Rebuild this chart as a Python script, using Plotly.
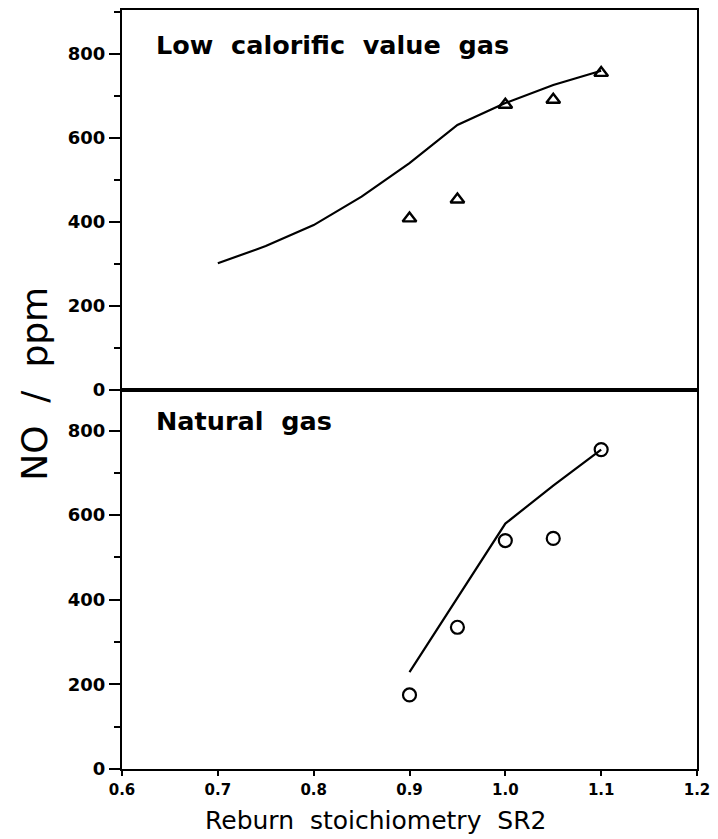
import plotly.graph_objects as go
from plotly.subplots import make_subplots

# Low calorific value gas (top panel)
lcv_meas_x = [0.90, 0.95, 1.00, 1.05, 1.10]
lcv_meas_y = [408, 453, 679, 691, 755]
lcv_calc_x = [0.70, 0.75, 0.80, 0.85, 0.90, 0.95, 1.00, 1.05, 1.10]
lcv_calc_y = [301, 342, 392, 460, 540, 631, 683, 726, 760]

# Natural gas (bottom panel)
ng_meas_x = [0.90, 0.95, 1.00, 1.05, 1.10]
ng_meas_y = [175, 335, 540, 545, 755]
ng_calc_x = [0.90, 0.95, 1.00, 1.05, 1.10]
ng_calc_y = [229, 405, 580, 670, 755]

y_tickvals = [0, 200, 400, 600, 800]
x_tickvals = [0.6, 0.7, 0.8, 0.9, 1.0, 1.1, 1.2]
x_ticktext = ["0.6", "0.7", "0.8", "0.9", "1.0", "1.1", "1.2"]

NB = "\u00a0"

W, H = 718, 839
ML, MR, MT, MB = 122, 16, 8, 70
PW, PH = W - ML - MR, H - MT - MB


def px_x(p):
    return (p - ML) / PW


def px_y(p):
    return (H - MB - p) / PH


fig = make_subplots(rows=2, cols=1, shared_xaxes=True, vertical_spacing=0)

fig.add_trace(go.Scatter(x=lcv_calc_x, y=lcv_calc_y, mode="lines",
                         line=dict(color="black", width=2.2), showlegend=False), row=1, col=1)
fig.add_trace(go.Scatter(x=lcv_meas_x, y=lcv_meas_y, mode="markers",
                         marker=dict(symbol="triangle-up-open", size=12, color="black",
                                     line=dict(color="black", width=2.4)),
                         showlegend=False), row=1, col=1)
fig.add_trace(go.Scatter(x=ng_calc_x, y=ng_calc_y, mode="lines",
                         line=dict(color="black", width=2.2), showlegend=False), row=2, col=1)
fig.add_trace(go.Scatter(x=ng_meas_x, y=ng_meas_y, mode="markers",
                         marker=dict(symbol="circle-open", size=13, color="black",
                                     line=dict(color="black", width=2.2)),
                         showlegend=False), row=2, col=1)

tickfont_y = dict(family="DejaVu Sans", size=18, color="black", weight="bold")
tickfont_x = dict(family="DejaVu Sans", size=15, color="black", weight="bold")

common_y = dict(showline=True, linecolor="black", linewidth=2, mirror=True,
                ticks="outside", ticklen=11, tickwidth=2, tickcolor="black",
                tickvals=y_tickvals, tickfont=tickfont_y, showgrid=False, zeroline=False,
                minor=dict(ticks="outside", ticklen=6, tickwidth=2, tickcolor="black",
                           dtick=100, tick0=0, showgrid=False))

fig.update_yaxes(range=[0, 905], row=1, col=1, **common_y)
fig.update_yaxes(range=[0, 897], row=2, col=1, **common_y)

fig.update_xaxes(range=[0.6, 1.2], showline=True, linecolor="black", linewidth=2,
                 mirror=True, showgrid=False, zeroline=False)
fig.update_xaxes(ticks="", showticklabels=False, row=1, col=1)
fig.update_xaxes(ticks="outside", ticklen=5, tickwidth=2, tickcolor="black",
                 tickvals=x_tickvals, ticktext=x_ticktext, tickfont=tickfont_x,
                 ticklabelstandoff=1, row=2, col=1)

# x-axis title
fig.add_annotation(x=px_x(378), y=px_y(821), xref="paper", yref="paper",
                   text=f"Reburn{NB}{NB}stoichiometry{NB}{NB}SR2",
                   showarrow=False, xanchor="center", yanchor="middle",
                   font=dict(family="DejaVu Sans", size=25, color="black"))

# panel labels
fig.add_annotation(x=px_x(154), y=px_y(43), xref="paper", yref="paper",
                   text=f"Low{NB}{NB}calorific{NB}{NB}value{NB}{NB}gas",
                   showarrow=False, xanchor="left", yanchor="middle",
                   font=dict(family="DejaVu Sans", size=25.5, color="black", weight="bold"))
fig.add_annotation(x=px_x(154), y=px_y(420), xref="paper", yref="paper",
                   text=f"Natural{NB}{NB}gas",
                   showarrow=False, xanchor="left", yanchor="middle",
                   font=dict(family="DejaVu Sans", size=25.5, color="black", weight="bold"))

# y-axis title
fig.add_annotation(x=px_x(33), y=px_y(383), xref="paper", yref="paper",
                   text=f"NO{NB}{NB}/{NB}{NB}ppm", textangle=-90,
                   showarrow=False, xanchor="center", yanchor="middle",
                   font=dict(family="DejaVu Sans", size=36, color="black", weight=500))

fig.update_layout(width=W, height=H, margin=dict(l=ML, r=MR, t=MT, b=MB),
                  plot_bgcolor="white", paper_bgcolor="white", showlegend=False)

fig.write_html("out.html")
